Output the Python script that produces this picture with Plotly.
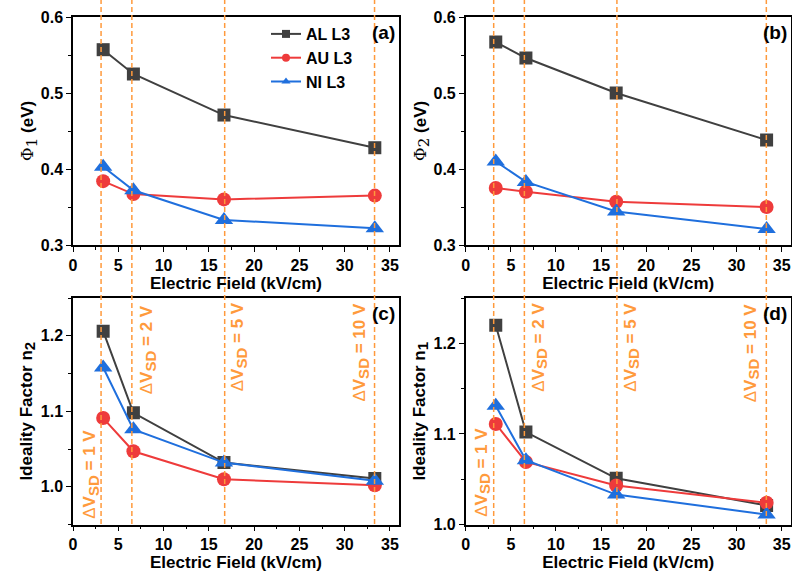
import plotly.graph_objects as go

# ---------------- data ----------------
field = [3.33, 6.67, 16.67, 33.33]          # kV/cm
guide_x = [3.1, 6.5, 16.75, 33.3]           # dashed guide lines
guide_labels = ["1 V", "2 V", "5 V", "10 V"]

phi1_AL = [0.557, 0.525, 0.471, 0.428]
phi1_AU = [0.384, 0.367, 0.360, 0.365]
phi1_NI = [0.403, 0.372, 0.333, 0.322]

phi2_AL = [0.567, 0.546, 0.500, 0.438]
phi2_AU = [0.375, 0.370, 0.357, 0.350]
phi2_NI = [0.410, 0.383, 0.344, 0.321]

n2_AL = [1.206, 1.098, 1.032, 1.011]
n2_AU = [1.091, 1.047, 1.010, 1.002]
n2_NI = [1.158, 1.076, 1.032, 1.008]

n1_AL = [1.220, 1.102, 1.051, 1.021]
n1_AU = [1.111, 1.069, 1.043, 1.024]
n1_NI = [1.131, 1.071, 1.033, 1.011]

series_names = ["AL L3", "AU L3", "NI L3"]
colors = ["#404040", "#EE3B3B", "#1F6FDD"]
symbols = ["square", "circle", "triangle-up"]
msizes = [13, 14, 16]

panels = [
    ("x", "y", [phi1_AL, phi1_AU, phi1_NI]),
    ("x2", "y2", [phi2_AL, phi2_AU, phi2_NI]),
    ("x3", "y3", [n2_AL, n2_AU, n2_NI]),
    ("x4", "y4", [n1_AL, n1_AU, n1_NI]),
]

W, H = 792, 578
FONT = "Liberation Sans, Arial, sans-serif"
ORANGE = "#FF9A3C"

def px_x(a, b):
    return [a / W, b / W]

def px_y(top, bottom):
    return [1 - bottom / H, 1 - top / H]

fig = go.Figure()

for xa, ya, vals in panels:
    for i, v in enumerate(vals):
        fig.add_trace(go.Scatter(
            x=field, y=v, xaxis=xa, yaxis=ya, mode="lines+markers",
            line=dict(color=colors[i], width=2),
            marker=dict(symbol=symbols[i], size=msizes[i], color=colors[i],
                        line=dict(color=colors[i], width=0)),
            showlegend=False, name=series_names[i]))

# legend entries (small markers as in reference)
for i in range(3):
    fig.add_trace(go.Scatter(
        x=[None], y=[None], xaxis="x", yaxis="y", mode="lines+markers",
        line=dict(color=colors[i], width=2),
        marker=dict(symbol=symbols[i], size=8, color=colors[i]),
        name=series_names[i], showlegend=True))

tickfont = dict(family=FONT, size=16, color="black", weight="bold")
titlefont = dict(family=FONT, size=17, color="black", weight="bold")

def xaxis_cfg(dom, anchor):
    return dict(domain=dom, anchor=anchor, range=[0, 36], dtick=5, tick0=0,
                showline=True, mirror=True, linecolor="black", linewidth=1.5,
                ticks="outside", ticklen=5, tickwidth=1.2, tickcolor="black",
                minor=dict(dtick=2.5, ticks="outside", ticklen=3, tickcolor="black"),
                showgrid=False, zeroline=False, tickfont=tickfont,
                title=dict(text="Electric Field (kV/cm)", font=titlefont, standoff=4),
                automargin=False)

def yaxis_cfg(dom, anchor, rng, dt, mdt, title, standoff):
    return dict(domain=dom, anchor=anchor, range=rng, dtick=dt,
                showline=True, mirror=True, linecolor="black", linewidth=1.5,
                ticks="outside", ticklen=5, tickwidth=1.2, tickcolor="black",
                minor=dict(dtick=mdt, ticks="outside", ticklen=3, tickcolor="black"),
                showgrid=False, zeroline=False, tickfont=tickfont, tickformat=".1f",
                title=dict(text=title, font=titlefont, standoff=standoff),
                automargin=False)

top_y = px_y(17, 245)
bot_y = px_y(298, 524.5)
left_x = px_x(73, 399)
right_x = px_x(465.7, 790.7)

phi = lambda k: ('<span style="font-family:DejaVu Serif;font-weight:normal">Φ</span>'
                 '<sub><span style="font-family:DejaVu Serif;font-weight:normal;font-size:15px">%s</span></sub>'
                 ' (eV)' % k)

fig.update_layout(
    width=W, height=H, margin=dict(l=0, r=0, t=0, b=0),
    plot_bgcolor="white", paper_bgcolor="white",
    xaxis=xaxis_cfg(left_x, "y"),
    xaxis2=xaxis_cfg(right_x, "y2"),
    xaxis3=xaxis_cfg(left_x, "y3"),
    xaxis4=xaxis_cfg(right_x, "y4"),
    yaxis=yaxis_cfg(top_y, "x", [0.3, 0.6], 0.1, 0.05, phi("1"), 2),
    yaxis2=yaxis_cfg(top_y, "x2", [0.3, 0.6], 0.1, 0.05, phi("2"), 2),
    yaxis3=yaxis_cfg(bot_y, "x3", [0.95, 1.25], 0.1, 0.05,
                     'Ideality Factor n<sub><span style="font-size:15px">2</span></sub>', 4),
    yaxis4=yaxis_cfg(bot_y, "x4", [1.0, 1.25], 0.1, 0.05,
                     'Ideality Factor n<sub><span style="font-size:15px">1</span></sub>', 4),
    legend=dict(x=266 / W, y=1 - 17 / H, xanchor="left", yanchor="top",
                bgcolor="rgba(0,0,0,0)", itemwidth=30, tracegroupgap=0,
                font=dict(family=FONT, size=16, color="black", weight="bold")),
    showlegend=True,
)

# dashed guide lines spanning both rows
for gx in guide_x:
    for xr in ["x", "x2"]:
        fig.add_shape(type="line", xref=xr, yref="paper", x0=gx, x1=gx,
                      y0=1 - 524 / H, y1=1,
                      line=dict(color=ORANGE, width=1.5, dash="5px,3px"))

# panel labels
plabels = [("(a)", "x", "y"), ("(b)", "x2", "y2"), ("(c)", "x3", "y3"), ("(d)", "x4", "y4")]
for t, xr, yr in plabels:
    fig.add_annotation(text=t, xref=xr + " domain", yref=yr + " domain", x=0.995, y=0.985,
                       xanchor="right", yanchor="top", showarrow=False,
                       font=dict(family=FONT, size=19, color="black", weight="bold"))

# ΔV_SD annotations
ann_c = [(2.0, 1.016), (8.3, 1.181), (18.35, 1.185), (31.8, 1.179)]
ann_d = [(1.9, 1.058), (8.2, 1.196), (18.4, 1.196), (31.7, 1.190)]
for (xr, yr, pos) in [("x3", "y3", ann_c), ("x4", "y4", ann_d)]:
    for lab, (ax, ay) in zip(guide_labels, pos):
        fig.add_annotation(text='<span style="font-weight:normal">Δ</span>V'
                                '<sub><span style="font-size:15px">SD</span></sub> = ' + lab,
                           xref=xr, yref=yr, x=ax, y=ay, textangle=-90,
                           showarrow=False, xanchor="center", yanchor="middle",
                           font=dict(family=FONT, size=17, color=ORANGE, weight="bold"))

fig.write_html("out.html")
